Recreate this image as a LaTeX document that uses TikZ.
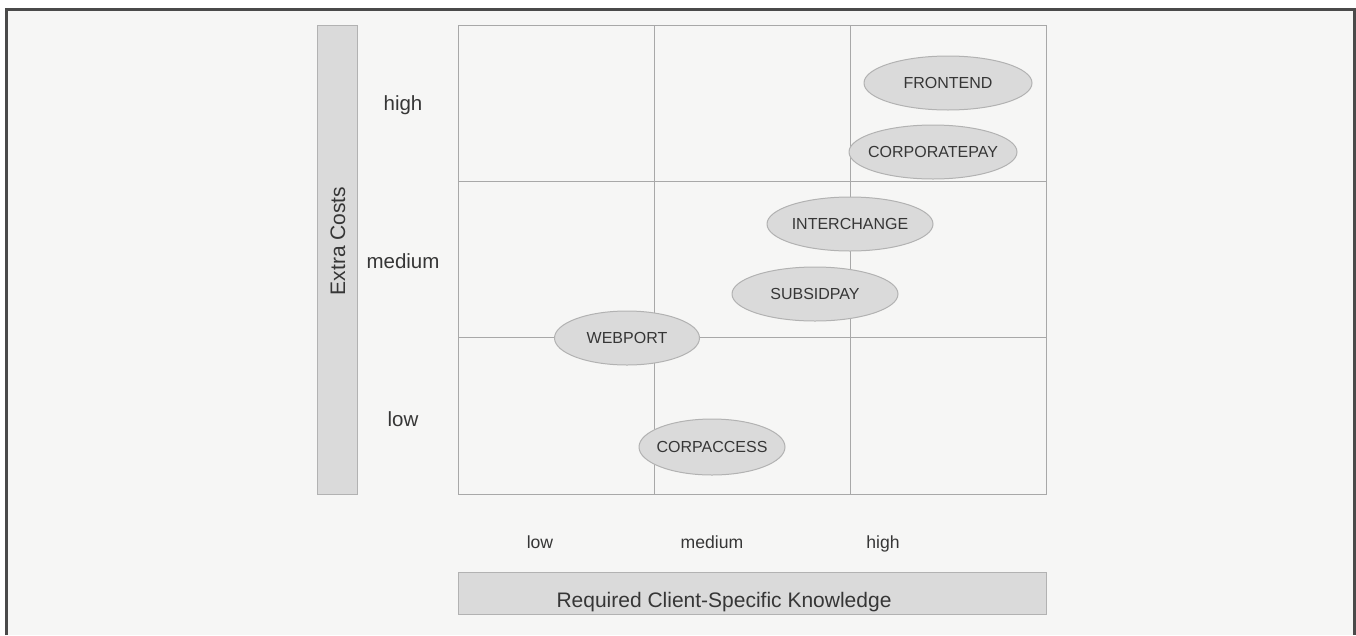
\documentclass[tikz,border=0pt]{standalone}
\usepackage{fontspec}
\setmainfont{Liberation Sans}
\usetikzlibrary{shapes.geometric}

\definecolor{paper}{HTML}{F6F6F5}
\definecolor{frameline}{HTML}{4A4A4A}
\definecolor{gridline}{HTML}{A8A8A8}
\definecolor{bubble}{HTML}{DADADA}
\definecolor{bubbleline}{HTML}{B2B2B2}
\definecolor{ink}{HTML}{363636}

\tikzset{
  system/.style={ellipse, draw=bubbleline, fill=bubble, line width=1pt,
    minimum height=54pt, inner ysep=0pt, inner xsep=-20pt, text=ink,
    font=\fontsize{16}{17}\selectfont},
  axisbar/.style={draw=bubbleline, fill=bubble, line width=1pt},
  ylevel/.style={anchor=base, text=ink, font=\fontsize{20.5}{21}\selectfont},
  xlevel/.style={anchor=base, text=ink, font=\fontsize{17.6}{18}\selectfont},
  axistitle/.style={anchor=base, text=ink, font=\fontsize{21}{22}\selectfont}
}

\begin{document}
\begin{tikzpicture}[x=1pt, y=-1pt]
    \useasboundingbox (0,0) rectangle (1356,635);
    \fill[white] (0,0) rectangle (1356,635);
    \fill[paper] (6,9) rectangle (1354,635);
    \draw[frameline, line width=3pt] (6,635) -- (6,9) -- (1354,9) -- (1354,635);

    % the 3x3 grid
    \draw[gridline, line width=1pt] (458,25) rectangle (1046,494);
    \draw[gridline, line width=1pt] (654,25) -- (654,494);
    \draw[gridline, line width=1pt] (850,25) -- (850,494);
    \draw[gridline, line width=1pt] (458,181) -- (1046,181);
    \draw[gridline, line width=1pt] (458,337) -- (1046,337);

    % axes
    \draw[axisbar] (317,25) rectangle (357,494);
    \node[axistitle, rotate=90] (costs) at (345,241) {Extra Costs};
    \draw[axisbar] (458,572) rectangle (1046,614);
    \node[axistitle] (knowledge) at (724,607) {Required Client-Specific Knowledge};

    \node[ylevel] (yhigh) at (403,110) {high};
    \node[ylevel] (ymedium) at (403,268) {medium};
    \node[ylevel] (ylow) at (403,426) {low};
    \node[xlevel] (xlow) at (540,548) {low};
    \node[xlevel] (xmedium) at (712,548) {medium};
    \node[xlevel] (xhigh) at (883,548) {high};

    % systems
    \node[system, minimum width=168pt] (frontend) at (948,83) {FRONTEND};
    \node[system, minimum width=168pt] (corporatepay) at (933,152) {CORPORATEPAY};
    \node[system, minimum width=166pt] (interchange) at (850,224) {INTERCHANGE};
    \node[system, minimum width=166pt] (subsidpay) at (815,294) {SUBSIDPAY};
    \node[system, minimum width=145pt] (webport) at (627,338) {WEBPORT};
    \node[system, minimum width=146pt, minimum height=56pt] (corpaccess) at (712,447) {CORPACCESS};
\end{tikzpicture}
\end{document}
